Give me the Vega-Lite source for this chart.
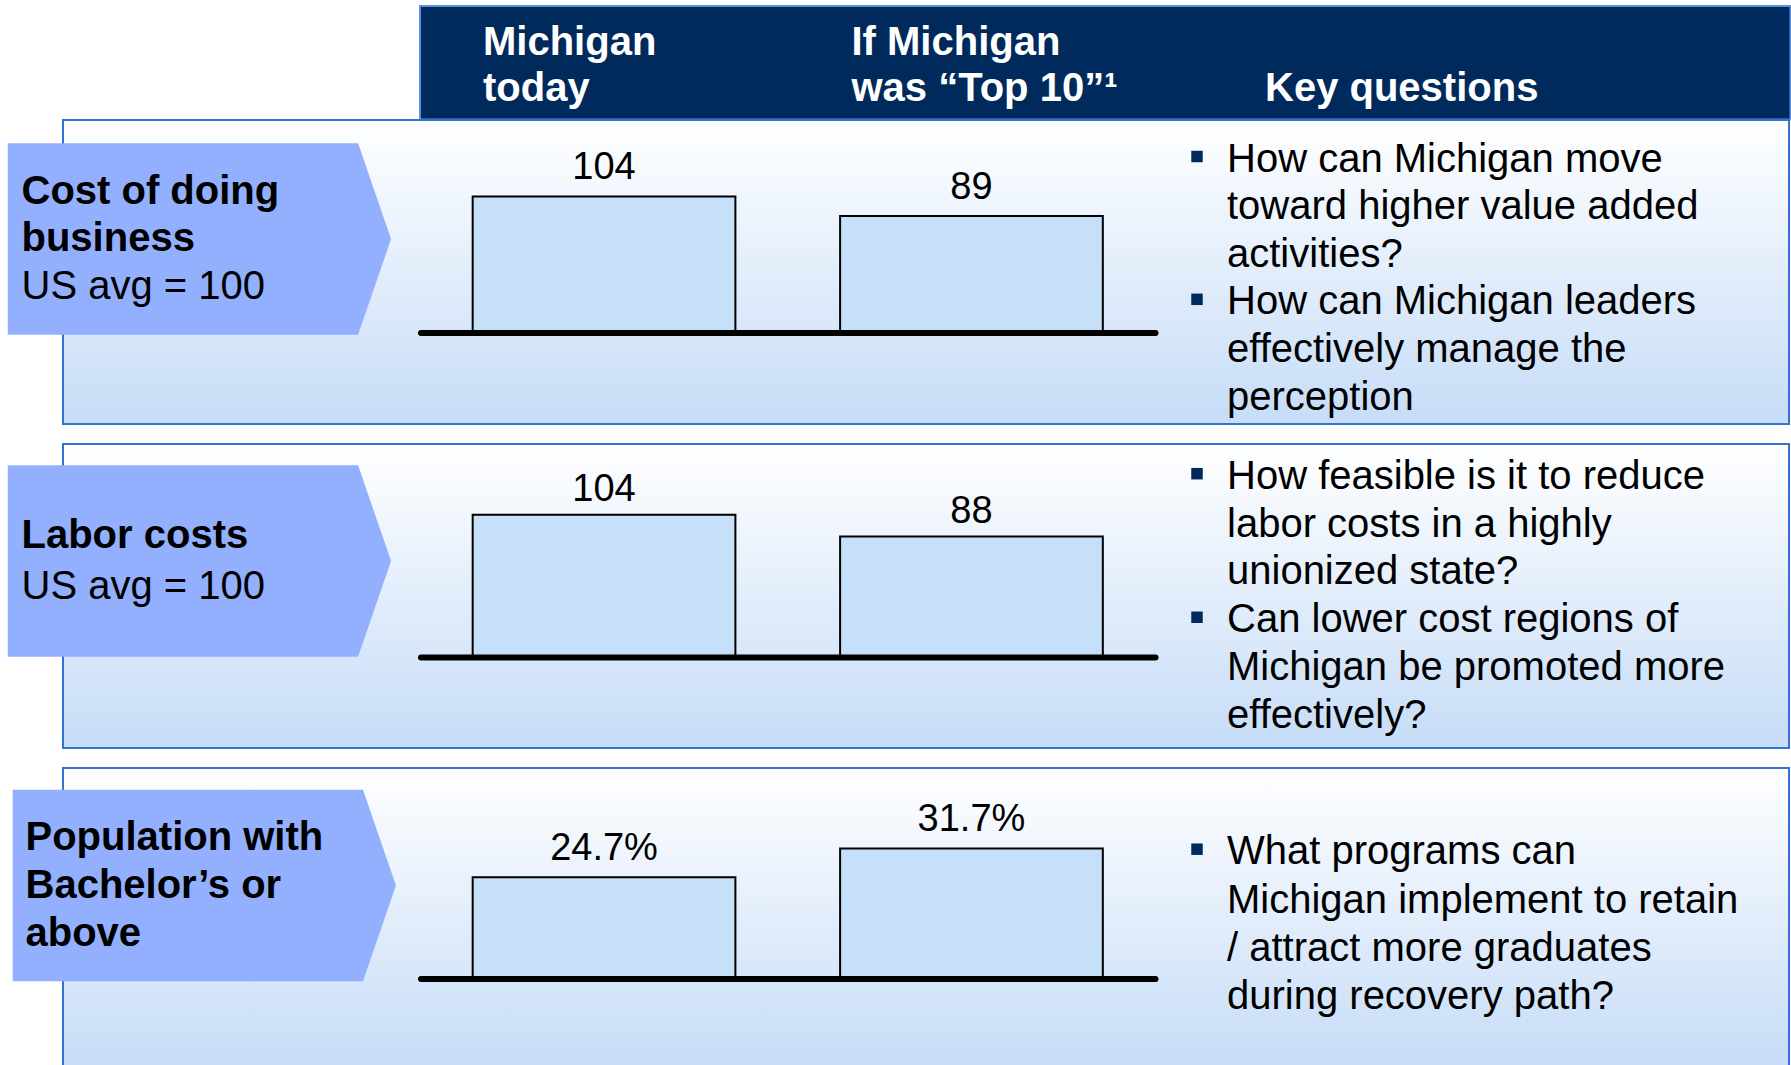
{
  "$schema": "https://vega.github.io/schema/vega-lite/v6.json",
  "background": "white",
  "padding": {"left": 0, "top": 5, "right": 0, "bottom": 0},
  "autosize": {"type": "pad"},
  "bounds": "flush",
  "align": "each",
  "columns": 2,
  "spacing": 0,
  "config": {"view": {"stroke": null}, "font": "Liberation Sans"},
  "datasets": {
    "header": [
      {"column": "Michigan today", "text": "Michigan\ntoday", "kind": "scenario"},
      {"column": "If Michigan was “Top 10”", "text": "If Michigan\nwas “Top 10”¹", "kind": "scenario"},
      {"column": "Key questions", "text": "Key questions", "kind": "questions"}
    ],
    "metrics": [
      {"metric": "Cost of doing business"},
      {"metric": "Labor costs"},
      {"metric": "Population with Bachelor’s or above"}
    ],
    "labels": [
      {"metric": "Cost of doing business", "line": 1, "part": "title", "text": "Cost of doing"},
      {"metric": "Cost of doing business", "line": 2, "part": "title", "text": "business"},
      {"metric": "Cost of doing business", "line": 3, "part": "note", "text": "US avg = 100"},
      {"metric": "Labor costs", "line": 1, "part": "title", "text": "Labor costs"},
      {"metric": "Labor costs", "line": 2, "part": "note", "text": "US avg = 100"},
      {"metric": "Population with Bachelor’s or above", "line": 1, "part": "title", "text": "Population with"},
      {"metric": "Population with Bachelor’s or above", "line": 2, "part": "title", "text": "Bachelor’s or"},
      {"metric": "Population with Bachelor’s or above", "line": 3, "part": "title", "text": "above"}
    ],
    "bars": [
      {"metric": "Cost of doing business", "scenario": "Michigan today", "value": 104},
      {"metric": "Cost of doing business", "scenario": "If Michigan was “Top 10”", "value": 89},
      {"metric": "Labor costs", "scenario": "Michigan today", "value": 104},
      {"metric": "Labor costs", "scenario": "If Michigan was “Top 10”", "value": 88},
      {"metric": "Population with Bachelor’s or above", "scenario": "Michigan today", "value": 0.247},
      {"metric": "Population with Bachelor’s or above", "scenario": "If Michigan was “Top 10”", "value": 0.317}
    ],
    "questions": [
      {"metric": "Cost of doing business", "line": 1, "bullet": true, "text": "How can Michigan move"},
      {"metric": "Cost of doing business", "line": 2, "bullet": false, "text": "toward higher value added"},
      {"metric": "Cost of doing business", "line": 3, "bullet": false, "text": "activities?"},
      {"metric": "Cost of doing business", "line": 4, "bullet": true, "text": "How can Michigan leaders"},
      {"metric": "Cost of doing business", "line": 5, "bullet": false, "text": "effectively manage the"},
      {"metric": "Cost of doing business", "line": 6, "bullet": false, "text": "perception"},
      {"metric": "Labor costs", "line": 1, "bullet": true, "text": "How feasible is it to reduce"},
      {"metric": "Labor costs", "line": 2, "bullet": false, "text": "labor costs in a highly"},
      {"metric": "Labor costs", "line": 3, "bullet": false, "text": "unionized state?"},
      {"metric": "Labor costs", "line": 4, "bullet": true, "text": "Can lower cost regions of"},
      {"metric": "Labor costs", "line": 5, "bullet": false, "text": "Michigan be promoted more"},
      {"metric": "Labor costs", "line": 6, "bullet": false, "text": "effectively?"},
      {"metric": "Population with Bachelor’s or above", "line": 1, "bullet": true, "text": "What programs can"},
      {"metric": "Population with Bachelor’s or above", "line": 2, "bullet": false, "text": "Michigan implement to retain"},
      {"metric": "Population with Bachelor’s or above", "line": 3, "bullet": false, "text": "/ attract more graduates"},
      {"metric": "Population with Bachelor’s or above", "line": 4, "bullet": false, "text": "during recovery path?"}
    ]
  },
  "concat": [
    {"width": 63, "height": 113.5, "data": {"values": []}, "mark": "point"},
    {
      "width": 1727.5,
      "height": 113.5,
      "data": {"name": "header"},
      "resolve": {"scale": {"x": "independent", "y": "independent"}},
      "layer": [
        {
          "transform": [{"aggregate": [{"op": "count", "as": "columns"}]}],
          "mark": {"type": "rect", "fill": "#002a5c", "stroke": "#5b90dc", "strokeWidth": 2},
          "encoding": {
            "x": {"datum": "header", "type": "nominal", "scale": {"type": "band", "range": [357, 1727.5], "paddingInner": 0, "paddingOuter": 0}, "axis": null},
            "y": {"datum": "header", "type": "nominal", "scale": {"type": "band", "range": [0, 113.5], "paddingInner": 0, "paddingOuter": 0}, "axis": null}
          }
        },
        {
          "transform": [{"filter": "datum.kind === 'scenario'"}],
          "mark": {"type": "text", "align": "left", "baseline": "alphabetic", "fontSize": 40, "fontWeight": "bold", "color": "white", "lineBreak": "\n", "lineHeight": 46, "font": "Liberation Sans"},
          "encoding": {
            "x": {"field": "column", "type": "nominal", "sort": null, "scale": {"type": "point", "range": [420, 788.5], "padding": 0}, "axis": null},
            "y": {"field": "kind", "type": "nominal", "scale": {"type": "point", "range": [49, 49]}, "axis": null},
            "text": {"field": "text"}
          }
        },
        {
          "transform": [{"filter": "datum.kind === 'questions'"}],
          "mark": {"type": "text", "align": "left", "baseline": "alphabetic", "fontSize": 40, "fontWeight": "bold", "color": "white", "font": "Liberation Sans"},
          "encoding": {
            "x": {"field": "column", "type": "nominal", "scale": {"type": "point", "range": [1202, 1202]}, "axis": null},
            "y": {"field": "kind", "type": "nominal", "scale": {"type": "point", "range": [95, 95]}, "axis": null},
            "text": {"field": "text"}
          }
        }
      ]
    },
    {"width": 63, "height": 304, "data": {"values": []}, "mark": "point"},
    {
      "width": 1726,
      "height": 304,
      "view": {"fill": {"gradient": "linear", "x1": 0, "y1": 0, "x2": 0, "y2": 1, "stops": [{"offset": 0, "color": "#ffffff"}, {"offset": 1, "color": "#c6dcf7"}]}, "stroke": "#3274d6", "strokeWidth": 2},
      "resolve": {"scale": {"x": "independent", "y": "independent"}},
      "layer": [
        {
          "data": {"name": "metrics"},
          "transform": [{"filter": "datum.metric === 'Cost of doing business'"}],
          "mark": {"type": "point", "shape": "M-1,-0.5L0.828,-0.5L1,0L0.828,0.5L-1,0.5Z", "size": 146919, "filled": true, "opacity": 1, "color": "#92b0fd", "strokeWidth": 0},
          "encoding": {
            "x": {"field": "metric", "type": "nominal", "scale": {"type": "point", "range": [136.4, 136.4]}, "axis": null},
            "y": {"field": "metric", "type": "nominal", "scale": {"type": "point", "range": [119, 119]}, "axis": null}
          }
        },
        {
          "data": {"name": "labels"},
          "transform": [{"filter": "datum.metric === 'Cost of doing business'"}],
          "encoding": {
            "x": {"field": "metric", "type": "nominal", "scale": {"type": "point", "range": [-41.5, -41.5]}, "axis": null},
            "y": {"field": "line", "type": "ordinal", "scale": {"type": "point", "range": [71.5, 166.5], "padding": 0}, "axis": null},
            "text": {"field": "text"}
          },
          "layer": [
            {"transform": [{"filter": "datum.part === 'title'"}], "mark": {"type": "text", "align": "left", "baseline": "middle", "fontSize": 40, "fontWeight": "bold", "color": "black", "font": "Liberation Sans"}},
            {"transform": [{"filter": "datum.part === 'note'"}], "mark": {"type": "text", "align": "left", "baseline": "middle", "fontSize": 40, "color": "black", "font": "Liberation Sans"}}
          ]
        },
        {
          "data": {"name": "bars"},
          "transform": [{"filter": "datum.metric === 'Cost of doing business'"}],
          "encoding": {
            "x": {"field": "scenario", "type": "nominal", "sort": null, "scale": {"type": "band", "range": [357.5, 1092], "paddingInner": 0.285, "paddingOuter": 0.142}, "axis": {"domain": true, "domainColor": "black", "domainWidth": 6, "domainCap": "round", "ticks": false, "labels": false, "grid": false, "title": null, "offset": -91.5, "zindex": 1}},
            "y": {"field": "value", "type": "quantitative", "scale": {"domain": [0, 104], "range": [212.5, 76.5], "nice": false, "zero": true}, "axis": null}
          },
          "layer": [
            {"mark": {"type": "bar", "fill": "#c6e0fa", "stroke": "black", "strokeWidth": 2}},
            {"mark": {"type": "text", "baseline": "alphabetic", "dy": -17.5, "fontSize": 38, "color": "black", "font": "Liberation Sans"}, "encoding": {"text": {"field": "value", "type": "quantitative", "format": "d"}}}
          ]
        },
        {
          "data": {"name": "questions"},
          "transform": [{"filter": "datum.metric === 'Cost of doing business'"}],
          "encoding": {
            "y": {"field": "line", "type": "ordinal", "scale": {"type": "point", "range": [39.5, 277.5], "padding": 0}, "axis": null}
          },
          "layer": [
            {"mark": {"type": "text", "align": "left", "baseline": "middle", "fontSize": 40, "color": "black", "font": "Liberation Sans"},
             "encoding": {"x": {"datum": "question", "type": "nominal", "scale": {"type": "point", "domain": ["bullet", "question"], "range": [1134, 1164], "padding": 0}, "axis": null}, "text": {"field": "text"}}},
            {"transform": [{"filter": "datum.bullet"}], "mark": {"type": "point", "shape": "square", "size": 132, "filled": true, "opacity": 1, "color": "#002a5c", "yOffset": -3},
             "encoding": {"x": {"datum": "bullet", "type": "nominal"}}}
          ]
        }
      ]
    },
    {"width": 63, "height": 19.5, "data": {"values": []}, "mark": "point"},
    {"width": 1726, "height": 19.5, "data": {"values": []}, "mark": "point"},
    {"width": 63, "height": 304, "data": {"values": []}, "mark": "point"},
    {
      "width": 1726,
      "height": 304,
      "view": {"fill": {"gradient": "linear", "x1": 0, "y1": 0, "x2": 0, "y2": 1, "stops": [{"offset": 0, "color": "#ffffff"}, {"offset": 1, "color": "#c6dcf7"}]}, "stroke": "#3274d6", "strokeWidth": 2},
      "resolve": {"scale": {"x": "independent", "y": "independent"}},
      "layer": [
        {
          "data": {"name": "metrics"},
          "transform": [{"filter": "datum.metric === 'Labor costs'"}],
          "mark": {"type": "point", "shape": "M-1,-0.5L0.828,-0.5L1,0L0.828,0.5L-1,0.5Z", "size": 146919, "filled": true, "opacity": 1, "color": "#92b0fd", "strokeWidth": 0},
          "encoding": {
            "x": {"field": "metric", "type": "nominal", "scale": {"type": "point", "range": [136.4, 136.4]}, "axis": null},
            "y": {"field": "metric", "type": "nominal", "scale": {"type": "point", "range": [117, 117]}, "axis": null}
          }
        },
        {
          "data": {"name": "labels"},
          "transform": [{"filter": "datum.metric === 'Labor costs'"}],
          "encoding": {
            "x": {"field": "metric", "type": "nominal", "scale": {"type": "point", "range": [-41.5, -41.5]}, "axis": null},
            "y": {"field": "line", "type": "ordinal", "scale": {"type": "point", "range": [92, 143], "padding": 0}, "axis": null},
            "text": {"field": "text"}
          },
          "layer": [
            {"transform": [{"filter": "datum.part === 'title'"}], "mark": {"type": "text", "align": "left", "baseline": "middle", "fontSize": 40, "fontWeight": "bold", "color": "black", "font": "Liberation Sans"}},
            {"transform": [{"filter": "datum.part === 'note'"}], "mark": {"type": "text", "align": "left", "baseline": "middle", "fontSize": 40, "color": "black", "font": "Liberation Sans"}}
          ]
        },
        {
          "data": {"name": "bars"},
          "transform": [{"filter": "datum.metric === 'Labor costs'"}],
          "encoding": {
            "x": {"field": "scenario", "type": "nominal", "sort": null, "scale": {"type": "band", "range": [357.5, 1092], "paddingInner": 0.285, "paddingOuter": 0.142}, "axis": {"domain": true, "domainColor": "black", "domainWidth": 6, "domainCap": "round", "ticks": false, "labels": false, "grid": false, "title": null, "offset": -91, "zindex": 1}},
            "y": {"field": "value", "type": "quantitative", "scale": {"domain": [0, 104], "range": [213, 70.7], "nice": false, "zero": true}, "axis": null}
          },
          "layer": [
            {"mark": {"type": "bar", "fill": "#c6e0fa", "stroke": "black", "strokeWidth": 2}},
            {"mark": {"type": "text", "baseline": "alphabetic", "dy": -14, "fontSize": 38, "color": "black", "font": "Liberation Sans"}, "encoding": {"text": {"field": "value", "type": "quantitative", "format": "d"}}}
          ]
        },
        {
          "data": {"name": "questions"},
          "transform": [{"filter": "datum.metric === 'Labor costs'"}],
          "encoding": {
            "y": {"field": "line", "type": "ordinal", "scale": {"type": "point", "range": [32.7, 272], "padding": 0}, "axis": null}
          },
          "layer": [
            {"mark": {"type": "text", "align": "left", "baseline": "middle", "fontSize": 40, "color": "black", "font": "Liberation Sans"},
             "encoding": {"x": {"datum": "question", "type": "nominal", "scale": {"type": "point", "domain": ["bullet", "question"], "range": [1134, 1164], "padding": 0}, "axis": null}, "text": {"field": "text"}}},
            {"transform": [{"filter": "datum.bullet"}], "mark": {"type": "point", "shape": "square", "size": 132, "filled": true, "opacity": 1, "color": "#002a5c", "yOffset": -3},
             "encoding": {"x": {"datum": "bullet", "type": "nominal"}}}
          ]
        }
      ]
    },
    {"width": 63, "height": 19.5, "data": {"values": []}, "mark": "point"},
    {"width": 1726, "height": 19.5, "data": {"values": []}, "mark": "point"},
    {"width": 63, "height": 299.5, "data": {"values": []}, "mark": "point"},
    {
      "width": 1726,
      "height": 299.5,
      "view": {"fill": {"gradient": "linear", "x1": 0, "y1": 0, "x2": 0, "y2": 1, "stops": [{"offset": 0, "color": "#ffffff"}, {"offset": 1, "color": "#c6dcf7"}]}, "stroke": "#3274d6", "strokeWidth": 2},
      "resolve": {"scale": {"x": "independent", "y": "independent"}},
      "layer": [
        {
          "data": {"name": "metrics"},
          "transform": [{"filter": "datum.metric === 'Population with Bachelor’s or above'"}],
          "mark": {"type": "point", "shape": "M-1,-0.5L0.828,-0.5L1,0L0.828,0.5L-1,0.5Z", "size": 146919, "filled": true, "opacity": 1, "color": "#92b0fd", "strokeWidth": 0},
          "encoding": {
            "x": {"field": "metric", "type": "nominal", "scale": {"type": "point", "range": [141.3, 141.3]}, "axis": null},
            "y": {"field": "metric", "type": "nominal", "scale": {"type": "point", "range": [117.5, 117.5]}, "axis": null}
          }
        },
        {
          "data": {"name": "labels"},
          "transform": [{"filter": "datum.metric === 'Population with Bachelor’s or above'"}],
          "encoding": {
            "x": {"field": "metric", "type": "nominal", "scale": {"type": "point", "range": [-37.5, -37.5]}, "axis": null},
            "y": {"field": "line", "type": "ordinal", "scale": {"type": "point", "range": [69.5, 165.5], "padding": 0}, "axis": null},
            "text": {"field": "text"}
          },
          "layer": [
            {"transform": [{"filter": "datum.part === 'title'"}], "mark": {"type": "text", "align": "left", "baseline": "middle", "fontSize": 40, "fontWeight": "bold", "color": "black", "font": "Liberation Sans"}},
            {"transform": [{"filter": "datum.part === 'note'"}], "mark": {"type": "text", "align": "left", "baseline": "middle", "fontSize": 40, "color": "black", "font": "Liberation Sans"}}
          ]
        },
        {
          "data": {"name": "bars"},
          "transform": [{"filter": "datum.metric === 'Population with Bachelor’s or above'"}],
          "encoding": {
            "x": {"field": "scenario", "type": "nominal", "sort": null, "scale": {"type": "band", "range": [357.5, 1092], "paddingInner": 0.285, "paddingOuter": 0.142}, "axis": {"domain": true, "domainColor": "black", "domainWidth": 6, "domainCap": "round", "ticks": false, "labels": false, "grid": false, "title": null, "offset": -89, "zindex": 1}},
            "y": {"field": "value", "type": "quantitative", "scale": {"domain": [0, 0.317], "range": [210.5, 80.5], "nice": false, "zero": true}, "axis": null}
          },
          "layer": [
            {"mark": {"type": "bar", "fill": "#c6e0fa", "stroke": "black", "strokeWidth": 2}},
            {"mark": {"type": "text", "baseline": "alphabetic", "dy": -17.3, "fontSize": 38, "color": "black", "font": "Liberation Sans"}, "encoding": {"text": {"field": "value", "type": "quantitative", "format": ".1%"}}}
          ]
        },
        {
          "data": {"name": "questions"},
          "transform": [{"filter": "datum.metric === 'Population with Bachelor’s or above'"}],
          "encoding": {
            "y": {"field": "line", "type": "ordinal", "scale": {"type": "point", "range": [84.2, 229.2], "padding": 0}, "axis": null}
          },
          "layer": [
            {"mark": {"type": "text", "align": "left", "baseline": "middle", "fontSize": 40, "color": "black", "font": "Liberation Sans"},
             "encoding": {"x": {"datum": "question", "type": "nominal", "scale": {"type": "point", "domain": ["bullet", "question"], "range": [1134, 1164], "padding": 0}, "axis": null}, "text": {"field": "text"}}},
            {"transform": [{"filter": "datum.bullet"}], "mark": {"type": "point", "shape": "square", "size": 132, "filled": true, "opacity": 1, "color": "#002a5c", "yOffset": -3},
             "encoding": {"x": {"datum": "bullet", "type": "nominal"}}}
          ]
        }
      ]
    }
  ]
}
